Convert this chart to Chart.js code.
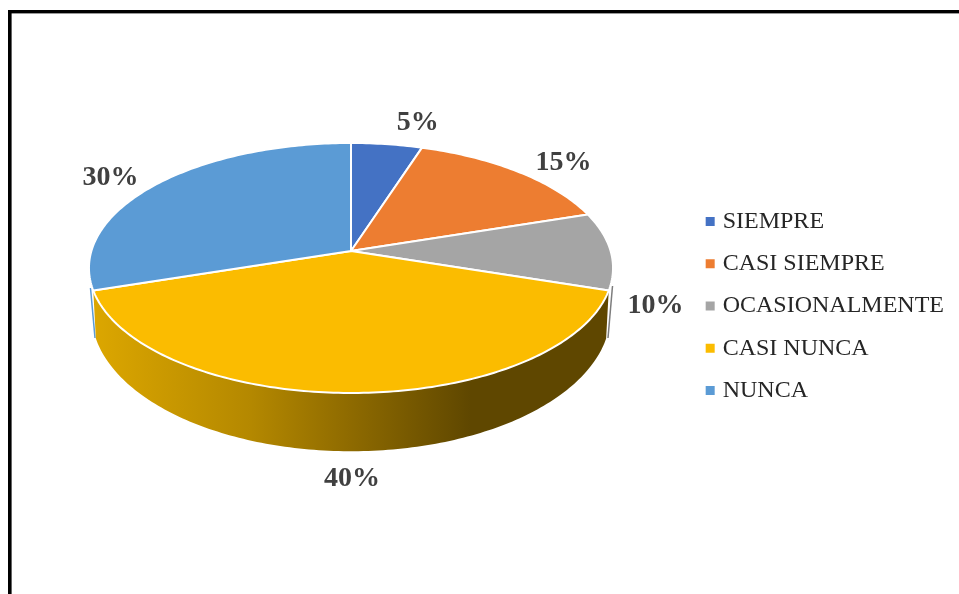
<!DOCTYPE html>
<html>
<head>
<meta charset="utf-8">
<script src="https://cdn.jsdelivr.net/npm/chart.js@4"></script>
<style>
  html, body { margin: 0; padding: 0; background: #fff; overflow: hidden; }
  canvas { display: block; }
</style>
</head>
<body>
<canvas id="pieChart" width="959" height="594"></canvas>
<script>
const categories = ["SIEMPRE", "CASI SIEMPRE", "OCASIONALMENTE", "CASI NUNCA", "NUNCA"];
const percents = [5, 15, 10, 40, 30];
const sliceColors = ["#4472c4", "#ed7d31", "#a5a5a5", "#fbbc00", "#5b9bd5"];

// perspective of the pie: top face and bottom rim of the wall
const topFace = { cx: 351, cy: 251, a: 259.6, b: 122.7, k: 0.136 };
const bottomFace = { cx: 351, cy: 295, a: 257, b: 135, k: 0.136 };
const labelNudge = [[31, -21], [45, -9], [45, 55], [1, 86], [-46, -6]];

function project(face, angle, r) {
  const u = Math.cos(angle) * r;
  const v = -Math.sin(angle) * r;
  const w = 1 + face.k * v;
  return { x: face.cx + face.a * u / w, y: face.cy - face.b * v / w };
}

function traceRim(ctx, face, from, to) {
  const steps = Math.max(2, Math.ceil(Math.abs(to - from) * 60));
  for (let i = 0; i <= steps; i++) {
    const p = project(face, from + (to - from) * i / steps, 1);
    ctx.lineTo(p.x, p.y);
  }
}

const pie3d = {
  id: "pie3d",
  beforeDraw(chart) {
    const ctx = chart.ctx;
    ctx.save();
    ctx.fillStyle = "#000";
    ctx.fillRect(8, 10, 951, 3.4);
    ctx.fillRect(8, 10, 3.6, 584);
    ctx.restore();
  },
  beforeDatasetsDraw(chart) {
    const ctx = chart.ctx;
    const arcs = chart.getDatasetMeta(0).data;
    const frontStart = 0.1 * Math.PI;
    const frontEnd = 0.9 * Math.PI;
    ctx.save();

    // thin edges of the back slices
    ctx.lineWidth = 1.5;
    ctx.strokeStyle = "#5b9bd5";
    ctx.beginPath();
    ctx.moveTo(90.5, 288);
    ctx.lineTo(95, 338);
    ctx.stroke();
    ctx.strokeStyle = "#7d7d7d";
    ctx.beginPath();
    ctx.moveTo(612.5, 286);
    ctx.lineTo(608, 338);
    ctx.stroke();

    // wall
    const wall = ctx.createLinearGradient(97, 0, 609, 0);
    wall.addColorStop(0, "#dba600");
    wall.addColorStop(0.3, "#b48800");
    wall.addColorStop(0.49, "#8f6b00");
    wall.addColorStop(0.73, "#5f4700");
    wall.addColorStop(1, "#5f4700");
    arcs.forEach(function (arc) {
      const s = Math.max(arc.startAngle, frontStart);
      const e = Math.min(arc.endAngle, frontEnd);
      if (s >= e) return;
      ctx.beginPath();
      traceRim(ctx, topFace, s, e);
      traceRim(ctx, bottomFace, e, s);
      ctx.closePath();
      ctx.fillStyle = wall;
      ctx.fill();
    });

    // top face
    arcs.forEach(function (arc, i) {
      ctx.beginPath();
      ctx.moveTo(topFace.cx, topFace.cy);
      traceRim(ctx, topFace, arc.startAngle, arc.endAngle);
      ctx.closePath();
      ctx.fillStyle = sliceColors[i];
      ctx.fill();
      ctx.lineWidth = 2;
      ctx.lineJoin = "round";
      ctx.strokeStyle = "#fff";
      ctx.stroke();
    });

    // value labels
    ctx.font = "bold 28px 'Liberation Serif'";
    ctx.fillStyle = "#404040";
    ctx.textAlign = "center";
    ctx.textBaseline = "middle";
    arcs.forEach(function (arc, i) {
      const p = project(topFace, (arc.startAngle + arc.endAngle) / 2, 1);
      ctx.fillText(percents[i] + "%", p.x + labelNudge[i][0], p.y + labelNudge[i][1]);
    });
    ctx.restore();
    return false;
  }
};

new Chart(document.getElementById("pieChart"), {
  type: "pie",
  data: {
    labels: categories,
    datasets: [{ data: percents, backgroundColor: sliceColors, borderWidth: 0 }]
  },
  plugins: [pie3d],
  options: {
    responsive: false,
    animation: false,
    layout: { padding: { top: 18, right: 5 } },
    plugins: {
      tooltip: { enabled: false },
      legend: {
        position: "right",
        labels: {
          usePointStyle: true,
          pointStyle: "rect",
          boxWidth: 1,
          boxHeight: 9,
          padding: 18.3,
          color: "#262626",
          font: { family: "'Liberation Serif'", size: 24 },
          generateLabels(chart) {
            return Chart.overrides.doughnut.plugins.legend.labels.generateLabels(chart).map(function (item) {
              return Object.assign(item, { lineWidth: 0, strokeStyle: "transparent", pointStyle: "rect" });
            });
          }
        }
      }
    }
  }
});
</script>
</body>
</html>
